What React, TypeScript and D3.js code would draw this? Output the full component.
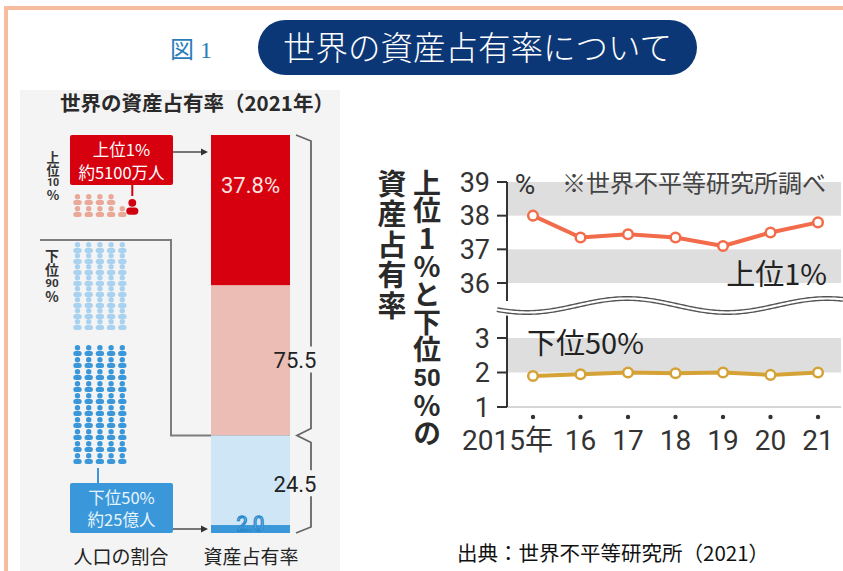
import React from 'react'
import * as d3 from 'd3'

const W = 843
const H = 571
const JP = '"Noto Sans CJK JP", "Noto Sans", sans-serif'
const NUM = 'Roboto, "Noto Sans CJK JP", sans-serif'

// 左: 2021年の資産占有率（上から）
const shareLabels = ['上位1%', '上位1〜10%', '下位50〜90%', '下位50%']
const shareValues = [37.8, 37.7, 22.5, 2.0]
const shareColors = ['#d7000f', '#ebbdb5', '#cfe6f7', '#3a98da']
const bracketLabels = ['75.5', '24.5']
const bracketValues = [75.5, 24.5]

// 人口 100人のアイコン
const popCounts = [1, 9, 40, 50]
const popColors = ['#cf0010', '#e9a898', '#a8d2f0', '#3a98da']

// 右: 推移
const years = [2015, 2016, 2017, 2018, 2019, 2020, 2021]
const yearLabels = ['2015年', '16', '17', '18', '19', '20', '21']
const top1 = [38.0, 37.35, 37.45, 37.35, 37.1, 37.5, 37.8]
const bottom50 = [1.9, 1.95, 2.0, 1.98, 2.0, 1.93, 2.0]
const topTicks = [39, 38, 37, 36]
const bottomTicks = [3, 2, 1]
const topBands = [38, 36]
const bottomBands = [2]

const axisTitle1 = ['資', '産', '占', '有', '率']
const axisTitle2 = ['上', '位', '1', '%', 'と', '下', '位', '50', '%', 'の']
const top10Label = ['上', '位', '10', '%']
const bottom90Label = ['下', '位', '90', '%']

// 縦書き。2桁の数字だけ横組み（縦中横）で1マスに入れる
function VText({ chars, x, y, size, spacing = 0, fill = '#2a2a2a' }) {
  const cell = size + spacing
  const parts = []
  let run = []
  let runStart = 0
  chars.forEach((t, i) => {
    if (/^\d\d$/.test(t)) {
      if (run.length) parts.push({ kind: 'v', text: run.join(''), idx: runStart })
      run = []
      parts.push({ kind: 'h', text: t, idx: i })
      runStart = i + 1
    } else {
      if (!run.length) runStart = i
      run.push(t)
    }
  })
  if (run.length) parts.push({ kind: 'v', text: run.join(''), idx: runStart })

  return (
    <g>
      {parts.map((p, k) => {
        if (p.kind === 'v') {
          return (
            <text key={k} x={x} y={y + p.idx * cell} fontFamily={JP} fontWeight={700} fill={fill} fontSize={size}
              letterSpacing={spacing} style={{ writingMode: 'vertical-rl', textOrientation: 'upright' }}>{p.text}</text>
          )
        }
        const fs = cell / 1.17
        const cy = y + p.idx * cell + cell / 2
        return (
          <text key={k} x={x} y={cy + 0.355 * fs} textAnchor="middle" fontFamily="Roboto, sans-serif" fontWeight={700}
            fill={fill} fontSize={fs}>{p.text}</text>
        )
      })}
    </g>
  )
}

function Person({ cx, cy, color, s = 1 }) {
  return (
    <g transform={`translate(${cx},${cy}) scale(${s})`}>
      <circle cx={0} cy={-2.2} r={2.7} fill={color} />
      <rect x={-4.2} y={1} width={8.4} height={5} rx={2.5} fill={color} />
    </g>
  )
}

function LeftPanel() {
  const yBar = d3.scaleLinear().domain([0, 100]).range([533, 135])
  const barX = 211
  const barW = 79
  const cum = [0, ...d3.cumsum(shareValues)]
  const segs = shareValues.map((v, i) => ({
    y0: yBar(100 - cum[i]),
    y1: yBar(100 - cum[i + 1]),
    color: shareColors[i],
    label: shareLabels[i]
  }))

  // 人アイコン配置
  const colX = (c) => 77.5 + c * 11.2
  const rowY = (r) => {
    if (r < 2) return 199 + r * 12
    if (r < 10) return 247 + (r - 2) * 11
    return 350 + (r - 10) * 12
  }
  const groupOf = (i) => {
    let acc = 0
    for (let g = 0; g < popCounts.length; g++) {
      acc += popCounts[g]
      if (i < acc) return g
    }
    return popCounts.length - 1
  }
  const people = []
  let slot = 0
  for (let i = 0; i < 100; i++) {
    const g = groupOf(i)
    if (g === 0) {
      people.push({ cx: colX(4) + 10, cy: 206, color: popColors[0], s: 1.45 })
      continue
    }
    // 上位10%の上段は4人
    let r, c
    if (slot < 4) { r = 0; c = slot } else { r = Math.floor((slot + 1) / 5); c = (slot + 1) % 5 }
    slot++
    people.push({ cx: colX(c), cy: rowY(r), color: popColors[g] })
  }

  const b1Top = yBar(100)
  const b1Bot = yBar(100 - bracketValues[0])
  const b2Bot = yBar(0)
  const bx = 311
  const lab1Y = (segs[1].y0 + segs[1].y1) / 2
  const lab2Y = (b1Bot + b2Bot) / 2

  return (
    <g>
      <rect x={20} y={90} width={320} height={481} fill="#f4f4f4" />
      <text x={60} y={111} fontFamily={JP} fontWeight={700} fontSize={20.5} fill="#2a2a2a">
        世界の資産占有率（2021年）
      </text>

      {/* 縦書きラベル */}
      <VText chars={top10Label} x={53} y={151} size={13} spacing={-0.6} fill="#333" />
      <VText chars={bottom90Label} x={52} y={249} size={14} spacing={-0.3} fill="#333" />

      {/* 下位90%の囲み線 */}
      <path d={`M40,240H171V${b1Bot}H${barX + barW}`} fill="none" stroke="#7d7d7d" strokeWidth={2} />

      {people.map((p, i) => <Person key={i} {...p} />)}

      {/* 上位1% ラベル */}
      <line x1={colX(4) + 10} x2={colX(4) + 10} y1={184} y2={196} stroke="#cf0010" strokeWidth={2} />
      <rect x={70} y={135} width={103} height={50} rx={2} fill="#d7000f" />
      <text x={121.5} y={156} textAnchor="middle" fontFamily={JP} fontSize={16.5} fill="#fff">上位1%</text>
      <text x={121.5} y={179} textAnchor="middle" fontFamily={JP} fontSize={16.5} fill="#fff">約5100万人</text>
      <line x1={173} x2={203} y1={152} y2={152} stroke="#333" strokeWidth={1.3} />
      <path d="M208,152L201,148.5V155.5Z" fill="#333" />

      {/* 下位50% ラベル */}
      <line x1={98} x2={98} y1={468} y2={483} stroke="#3a98da" strokeWidth={2} />
      <rect x={70} y={483} width={103} height={50} rx={2} fill="#3a98da" />
      <text x={121.5} y={504} textAnchor="middle" fontFamily={JP} fontSize={16.5} fill="#e8f4fc">下位50%</text>
      <text x={121.5} y={526} textAnchor="middle" fontFamily={JP} fontSize={16.5} fill="#e8f4fc">約25億人</text>
      <line x1={173} x2={203} y1={529} y2={529} stroke="#333" strokeWidth={1.3} />
      <path d="M208,529L201,525.5V532.5Z" fill="#333" />

      {/* 棒 */}
      {segs.map((s, i) => (
        <rect key={i} x={barX} y={s.y0} width={barW} height={s.y1 - s.y0} fill={s.color} />
      ))}
      <text x={barX + barW / 2} y={193} textAnchor="middle" fontFamily="Roboto, sans-serif" fontSize={22} fill="#fde3e0">
        37.8%
      </text>
      <text x={barX + barW / 2} y={531} textAnchor="middle" fontFamily="Roboto, sans-serif" fontSize={20}
        fill="#c4e2f7" stroke="#2a88cc" strokeWidth={1.3}>2.0</text>

      {/* 括弧 */}
      <path d={`M296,${b1Top}L${bx},${b1Top + 6}V${lab1Y - 14}M${bx},${lab1Y + 12}V${b1Bot - 7}L297,${b1Bot}L${bx},${b1Bot + 7}V${lab2Y - 14}M${bx},${lab2Y + 12}V${b2Bot - 6}L296,${b2Bot}`}
        fill="none" stroke="#666" strokeWidth={1.8} />
      <text x={295} y={lab1Y + 8} textAnchor="middle" fontFamily="Roboto, sans-serif" fontSize={22} fill="#222">{bracketLabels[0]}</text>
      <text x={295} y={lab2Y + 8} textAnchor="middle" fontFamily="Roboto, sans-serif" fontSize={22} fill="#222">{bracketLabels[1]}</text>

      <text x={121} y={564} textAnchor="middle" fontFamily={JP} fontSize={19} fill="#222">人口の割合</text>
      <text x={251} y={564} textAnchor="middle" fontFamily={JP} fontSize={19} fill="#222">資産占有率</text>
    </g>
  )
}

function RightChart() {
  const axisX = 507
  const right = 841
  const x = d3.scaleLinear().domain([2015, 2021]).range([533, 818])
  const yT = d3.scaleLinear().domain([36, 39]).range([283, 182])
  const yB = d3.scaleLinear().domain([1, 3]).range([407, 338])

  const lineT = d3.line<number>().x((_, i) => x(years[i])).y((d) => yT(d))
  const lineB = d3.line<number>().x((_, i) => x(years[i])).y((d) => yB(d))

  const wx = d3.range(axisX - 10, W + 2, 2)
  const wave = d3.line<number>().x((d) => d).y((d) => 305.5 + 7 * Math.cos((2 * Math.PI * (d - 527)) / 200))(wx)

  return (
    <g>
      {topBands.map((b) => (
        <rect key={'t' + b} x={axisX} y={yT(b + 1)} width={right - axisX} height={yT(b) - yT(b + 1)} fill="#dedede" />
      ))}
      {bottomBands.map((b) => (
        <rect key={'b' + b} x={axisX} y={yB(b + 1)} width={right - axisX} height={yB(b) - yB(b + 1)} fill="#dedede" />
      ))}
      <line x1={axisX} x2={right} y1={yB(1)} y2={yB(1)} stroke="#d6d6d6" strokeWidth={2} />

      <line x1={axisX} x2={axisX} y1={yT(39)} y2={yT(36) + 18} stroke="#333" strokeWidth={2} />
      <line x1={axisX} x2={axisX} y1={yB(3) - 24} y2={yB(1)} stroke="#333" strokeWidth={2} />
      {topTicks.map((t) => (
        <g key={'tt' + t}>
          <line x1={axisX - 10} x2={axisX} y1={yT(t)} y2={yT(t)} stroke="#333" strokeWidth={2} />
          <text x={490} y={yT(t) + 9.5} textAnchor="end" fontFamily={NUM} fontSize={27} fill="#333">{t}</text>
        </g>
      ))}
      {bottomTicks.map((t) => (
        <g key={'bt' + t}>
          <line x1={axisX - 10} x2={axisX} y1={yB(t)} y2={yB(t)} stroke="#333" strokeWidth={2} />
          <text x={490} y={yB(t) + 9.5} textAnchor="end" fontFamily={NUM} fontSize={27} fill="#333">{t}</text>
        </g>
      ))}

      {/* 省略の波線 */}
      <path d={wave} fill="none" stroke="#fff" strokeWidth={9} />
      <path d={wave} fill="none" stroke="#555" strokeWidth={5} />
      <path d={wave} fill="none" stroke="#fff" strokeWidth={2.2} />

      <text x={525} y={194} textAnchor="middle" fontFamily={NUM} fontSize={28} fill="#333">%</text>
      <text x={562} y={192} fontFamily={JP} fontSize={24} fill="#444">※世界不平等研究所調べ</text>

      <path d={lineT(top1)} fill="none" stroke="#f26b4a" strokeWidth={4} strokeLinejoin="round" />
      {top1.map((v, i) => (
        <circle key={'pt' + i} cx={x(years[i])} cy={yT(v)} r={4.8} fill="#fff" stroke="#f26b4a" strokeWidth={2.5} />
      ))}
      <path d={lineB(bottom50)} fill="none" stroke="#d5a236" strokeWidth={4} strokeLinejoin="round" />
      {bottom50.map((v, i) => (
        <circle key={'pb' + i} cx={x(years[i])} cy={yB(v)} r={4.8} fill="#fff" stroke="#d5a236" strokeWidth={2.5} />
      ))}

      <text x={827} y={285} textAnchor="end" fontFamily={JP} fontSize={29} fill="#222">上位1%</text>
      <text x={527} y={354} fontFamily={JP} fontSize={29} fill="#222">下位50%</text>

      {years.map((yr, i) => (
        <g key={'x' + yr}>
          <circle cx={x(yr)} cy={417} r={2.2} fill="#333" />
          <text x={i === 0 ? x(yr) + 20 : x(yr)} y={450} textAnchor={i === 0 ? 'end' : 'middle'}
            fontFamily={NUM} fontSize={28} fill="#333">{yearLabels[i]}</text>
        </g>
      ))}

      {/* 縦書きの軸タイトル */}
      <VText chars={axisTitle1} x={392} y={169} size={29} spacing={1.6} />
      <VText chars={axisTitle2} x={427} y={169} size={28} spacing={-0.2} />

      <text x={457} y={561} fontFamily={JP} fontSize={20.5} fill="#111">出典：世界不平等研究所（2021）</text>
    </g>
  )
}

export default function App() {
  return (
    <svg width={W} height={H} style={{ position: 'absolute', left: 0, top: 0, background: '#fff' }}>
      <rect width={W} height={H} fill="#fff" />
      <path d={`M6,${H}V8H${W}`} fill="none" stroke="#f8bc9e" strokeWidth={4} />
      <text x={170} y={58} fontFamily={'"Liberation Serif", "Noto Sans CJK JP", serif'} fontSize={24} fill="#2b7db8">
        図 1
      </text>
      <rect x={258} y={20} width={439} height={55} rx={27.5} fill="#0c3777" />
      <text x={477.5} y={60} textAnchor="middle" fontFamily={JP} fontWeight={300} fontSize={32.5} fill="#fff">
        世界の資産占有率について
      </text>
      <LeftPanel />
      <RightChart />
    </svg>
  )
}
